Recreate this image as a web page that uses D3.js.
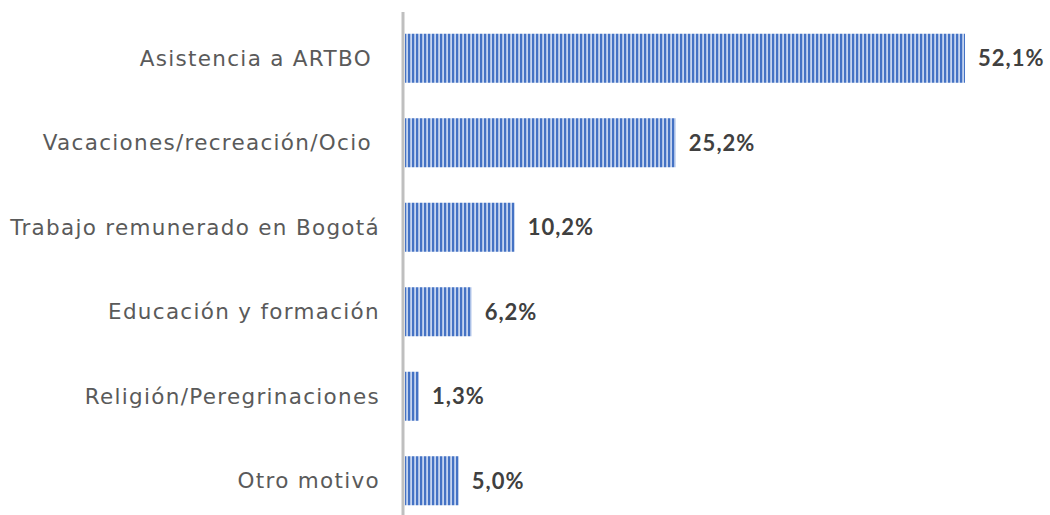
<!DOCTYPE html>
<html><head><meta charset="utf-8">
<script src="https://cdn.jsdelivr.net/npm/d3@7"></script>
<style>body{margin:0;background:#fff}svg{display:block}text{white-space:pre}</style>
</head><body>
<script>
const categories = ["Asistencia a ARTBO ","Vacaciones/recreación/Ocio ","Trabajo remunerado en Bogotá","Educación y formación","Religión/Peregrinaciones","Otro motivo"];
const values = [52.1,25.2,10.2,6.2,1.3,5.0];
const valueLabels = ["52,1%","25,2%","10,2%","6,2%","1,3%","5,0%"];

const W=1050,H=515;
const svg=d3.select("body").append("svg").attr("width",W).attr("height",H);
const defs=svg.append("defs");
const pat=defs.append("pattern").attr("id","stripes").attr("patternUnits","userSpaceOnUse").attr("width",4).attr("height",4);
pat.append("rect").attr("width",4).attr("height",4).attr("fill","#c5d4ef");
pat.append("rect").attr("width",2.2).attr("height",4).attr("fill","#4472c4");

const x0=405;
const x=d3.scaleLinear().domain([0,52.1]).range([x0,965]);
const y=d3.scaleBand().domain(categories).range([16,523]).paddingInner(0.42).paddingOuter(0.21);

svg.selectAll("rect.bar").data(values).enter().append("rect").attr("class","bar")
 .attr("x",x(0)).attr("y",(d,i)=>y(categories[i])).attr("width",d=>x(d)-x(0)).attr("height",y.bandwidth())
 .attr("fill","url(#stripes)");

svg.append("line").attr("x1",403).attr("x2",403).attr("y1",12).attr("y2",H).attr("stroke","#bfbfbf").attr("stroke-width",3);

svg.selectAll("text.cat").data(categories).enter().append("text").attr("class","cat")
 .attr("x",380).attr("y",d=>y(d)+y.bandwidth()/2).attr("dy","0.35em").attr("text-anchor","end")
 .attr("font-family","'DejaVu Sans', sans-serif").attr("font-size",21.5).attr("letter-spacing",1.3)
 .attr("fill","#5a5a5a").text(d=>d);

svg.selectAll("text.val").data(values).enter().append("text").attr("class","val")
 .attr("x",d=>x(d)+13).attr("y",(d,i)=>y(categories[i])+y.bandwidth()/2).attr("dy","0.36em")
 .attr("font-family","Lato, 'Open Sans', sans-serif").attr("font-weight","bold").attr("font-size",22).attr("letter-spacing",1)
 .attr("fill","#404040")
 .text((d,i)=>valueLabels[i]);
</script>
</body></html>
